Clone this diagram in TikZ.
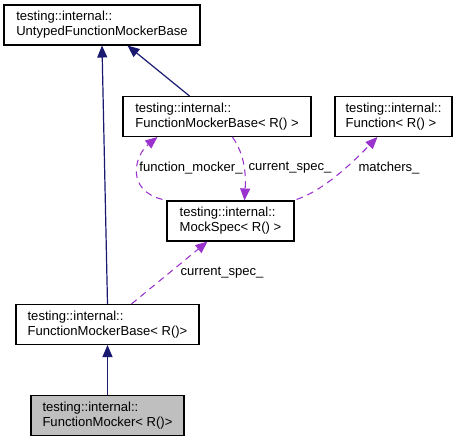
\documentclass[tikz,border=0pt]{standalone}
\usepackage{fontspec}
\setmainfont{Liberation Sans}
\usetikzlibrary{arrows.meta,calc}

\definecolor{edgeblue}{RGB}{25,25,112}
\definecolor{edgepurple}{RGB}{154,50,205}
\definecolor{boxgray}{RGB}{191,191,191}

\begin{document}
\begin{tikzpicture}[x=0.75pt,y=-0.75pt,
    font=\fontsize{9.8}{11.3}\selectfont,
    cls/.style={draw=black, line width=0.8pt, fill=white, align=left,
                minimum height=30pt, inner sep=0pt},
    inherit/.style={draw=edgeblue, line width=0.9pt,
                    -{Triangle[length=9pt,width=7.5pt]}},
    usage/.style={draw=edgepurple, line width=0.8pt, dash pattern=on 5pt off 3.75pt,
                  -{Triangle[length=9pt,width=7.5pt]}},
    lbl/.style={inner sep=0pt}]

    % fix the page to the reference size
    \useasboundingbox (0,0) rectangle (459,441);

    % Classes (centres and widths)
    \node[cls, minimum width=147pt] (untyped)  at (102,25)    {testing::internal::\\UntypedFunctionMockerBase};
    \node[cls, minimum width=141pt] (fmbaseR)  at (217,116.5) {testing::internal::\\FunctionMockerBase< R() >};
    \node[cls, minimum width=87.75pt] (function) at (393.5,116.5) {testing::internal::\\Function< R() >};
    \node[cls, minimum width=95.25pt] (mockspec) at (230.5,221) {testing::internal::\\MockSpec< R() >};
    \node[cls, minimum width=137.25pt] (fmbase)  at (107.5,324.5) {testing::internal::\\FunctionMockerBase< R()>};
    \node[cls, minimum width=114.75pt, fill=boxgray] (fmocker) at (107.5,415.5) {testing::internal::\\FunctionMocker< R()>};

    % Inheritance
    \draw[inherit] (fmbase.north) -- (untyped.south);
    \draw[inherit] ($(fmbaseR.north west)+(67,0)$) -- ($(untyped.south west)+(124,0)$);
    \draw[inherit] (fmocker.north) -- (fmbase.south);

    % Usage (dashed)
    \draw[usage] ($(mockspec.north west)+(-4,-1)$) .. controls (125,190) and (135,155) .. ($(fmbaseR.south west)+(35,0)$);
    \draw[usage] ($(fmbaseR.south west)+(110,0)$) .. controls (245,155) and (246,175) .. ($(mockspec.north west)+(78,0)$);
    \draw[usage] ($(mockspec.north east)+(2,-1)$) .. controls (325,190) and (355,160) .. ($(function.south west)+(43,0)$);
    \draw[usage] ($(fmbase.north west)+(116,0)$) -- ($(mockspec.south west)+(41,0)$);

    % Member names
    \node[lbl] (fmlbl)   at (191,168) {function\_mocker\_};
    \node[lbl] (cslbl)   at (290,168) {current\_spec\_};
    \node[lbl] (matlbl)  at (389,168) {matchers\_};
    \node[lbl] (cs2lbl)  at (222,273) {current\_spec\_};

\end{tikzpicture}
\end{document}
